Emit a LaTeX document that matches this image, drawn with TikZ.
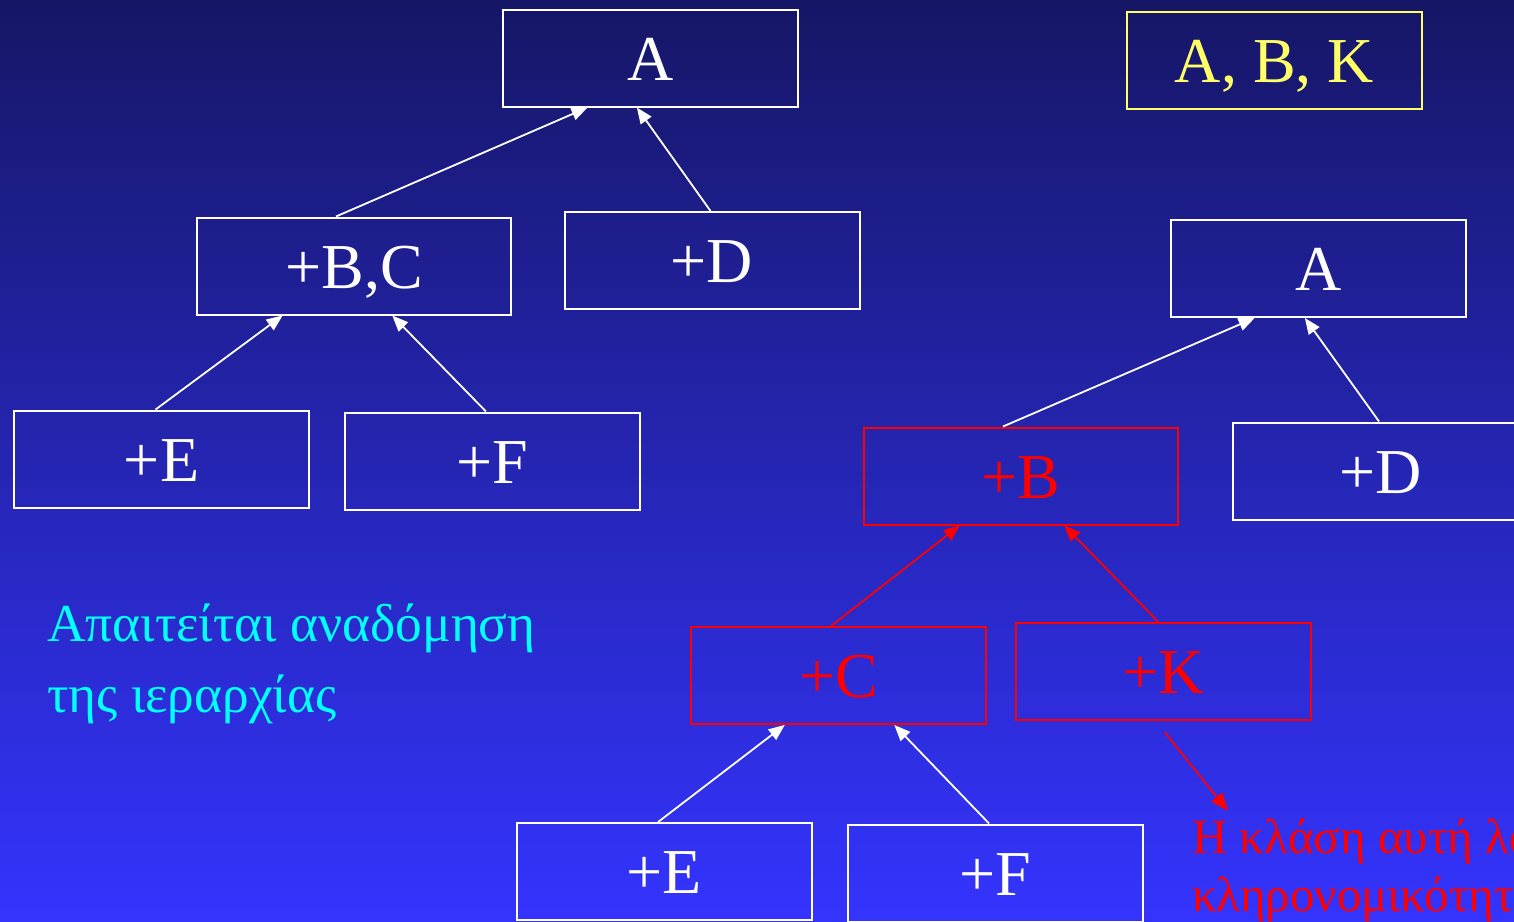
\documentclass[tikz,border=0pt]{standalone}
\usepackage{fontspec}
\setmainfont{Liberation Serif}
\usetikzlibrary{arrows.meta,calc}

\definecolor{bgtop}{RGB}{22,22,102}
\definecolor{bgbottom}{RGB}{52,52,255}
\definecolor{hlyellow}{RGB}{255,255,102}
\definecolor{notecyan}{RGB}{0,255,255}
\definecolor{hlred}{RGB}{255,0,0}

\tikzset{
  x=1pt, y=-1pt,
  classbox/.style={draw=white, line width=2pt, minimum width=295pt,
    minimum height=97pt, inner sep=0pt, text=white,
    font=\fontsize{64}{70}\selectfont, text height=44pt, text depth=0pt},
  widebox/.style={classbox, minimum width=314pt},
  redbox/.style={draw=hlred, text=hlred},
  link/.style={draw=white, line width=1.8pt,
    -{Triangle[length=16pt,width=13pt]}},
  redlink/.style={link, draw=hlred, fill=hlred},
  note/.style={anchor=base west, inner sep=0pt, text=notecyan,
    font=\fontsize{53.4}{72}\selectfont},
  rednote/.style={anchor=base west, inner sep=0pt, text=hlred,
    font=\fontsize{49}{58}\selectfont}
}

\begin{document}
\begin{tikzpicture}
  \useasboundingbox (0,0) rectangle (1514,921);
  \clip (0,0) rectangle (1514,921);
  \shade[top color=bgtop, bottom color=bgbottom] (0,0) rectangle (1514,921);

  % original hierarchy
  \node[classbox] (la) at (650.5,58) {A};
  \node[widebox]  (lbc) at (354,266) {+B,C};
  \node[classbox] (ld) at (712,260.5) {+D};
  \node[classbox] (le) at (161.5,459) {+E};
  \node[classbox] (lf) at (492.5,461) {+F};

  \draw[link] ($(lbc.north west)!0.443!(lbc.north east)$) -- ($(la.south west)!0.288!(la.south east)$);
  \draw[link] ($(ld.north west)!0.495!(ld.north east)$) -- ($(la.south west)!0.454!(la.south east)$);
  \draw[link] ($(le.north west)!0.48!(le.north east)$) -- ($(lbc.south west)!0.274!(lbc.south east)$);
  \draw[link] ($(lf.north west)!0.478!(lf.north east)$) -- ($(lbc.south west)!0.621!(lbc.south east)$);

  % required classes
  \node[classbox, draw=hlyellow, text=hlyellow] (req) at (1274.5,60.5) {A, B, K};

  % restructured hierarchy
  \node[classbox] (ra) at (1318.5,268.5) {A};
  \node[widebox, redbox] (rb) at (1021,476) {+B};
  \node[classbox] (rd) at (1380.5,471) {+D};
  \node[classbox, redbox] (rc) at (838.5,675.5) {+C};
  \node[classbox, redbox] (rk) at (1163.5,671) {+K};
  \node[classbox] (re) at (664,871.5) {+E};
  \node[classbox] (rf) at (995,873) {+F};

  \draw[link] ($(rb.north west)!0.443!(rb.north east)$) -- ($(ra.south west)!0.285!(ra.south east)$);
  \draw[link] ($(rd.north west)!0.495!(rd.north east)$) -- ($(ra.south west)!0.454!(ra.south east)$);
  \draw[redlink] ($(rc.north west)!0.475!(rc.north east)$) -- ($(rb.south west)!0.306!(rb.south east)$);
  \draw[redlink] ($(rk.north west)!0.481!(rk.north east)$) -- ($(rb.south west)!0.637!(rb.south east)$);
  \draw[link] ($(re.north west)!0.48!(re.north east)$) -- ($(rc.south west)!0.319!(rc.south east)$);
  \draw[link] ($(rf.north west)!0.48!(rf.north east)$) -- ($(rc.south west)!0.688!(rc.south east)$);

  % notes
  \node[note] (n1) at (47,641) {Απαιτείται αναδόμηση};
  \node[note] (n2) at (47,712) {της ιεραρχίας};

  \node[rednote] (m1) at (1192,853) {Η κλάση αυτή λάθος};
  \node[rednote] (m2) at (1192,911) {κληρονομικότητα};
  \coordinate (mtip) at (1228,811);
  \draw[redlink, -{Triangle[length=18pt,width=14pt]}] ($(rk.south west)!0.505!(rk.south east)+(0,12)$) -- (mtip);
\end{tikzpicture}
\end{document}
